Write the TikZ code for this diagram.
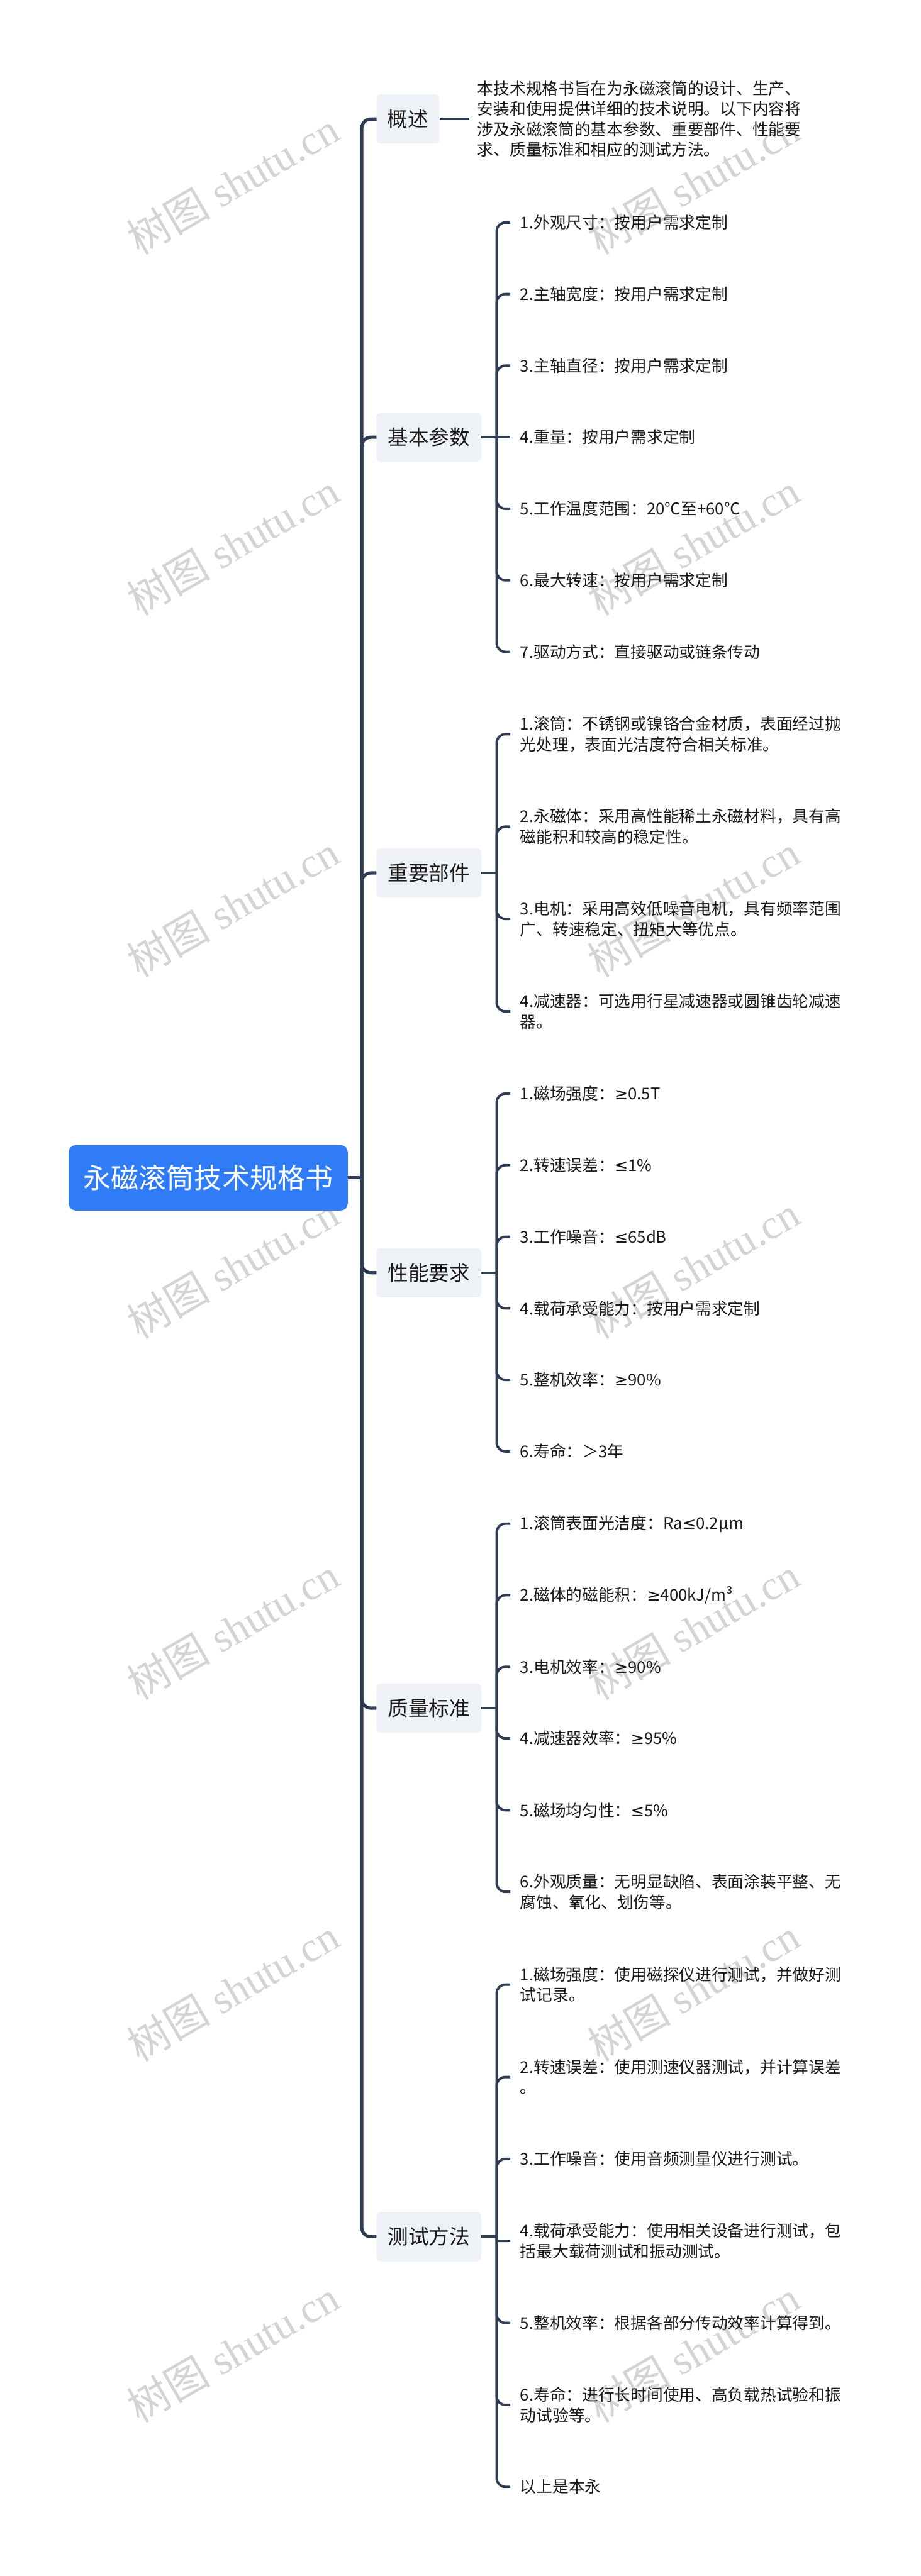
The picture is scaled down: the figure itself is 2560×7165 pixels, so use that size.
\documentclass[tikz,border=0pt]{standalone}
\usepackage{fontspec}
\setmainfont{Noto Sans CJK SC}
\newfontfamily\wmserif{Liberation Serif}
\newfontfamily\symf{DejaVu Sans}
\newcommand{\myge}{{\symf ≥}}
\newcommand{\myle}{{\symf ≤}}
\definecolor{lc}{HTML}{2E3D54}
\definecolor{catfill}{HTML}{EEF2F6}
\definecolor{rootblue}{HTML}{2F7CF6}
\definecolor{txt}{HTML}{1A1A1A}
\definecolor{wmgray}{HTML}{D4D4D4}
\tikzset{
  trunkline/.style={draw=lc, line width=4.5pt, rounded corners=12.5pt},
  subline/.style={draw=lc, line width=3.4pt, rounded corners=12pt},
  rootbox/.style={fill=rootblue, rounded corners=10pt, minimum width=388pt, minimum height=91pt,
    inner sep=0pt, text=white, font=\fontsize{38.5}{46}\selectfont},
  catbox/.style={fill=catfill, rounded corners=6pt, minimum width=145.5pt, minimum height=68.5pt,
    inner sep=0pt, text=txt, font=\fontsize{28.5}{34}\selectfont},
  leaf/.style={anchor=west, align=left, inner xsep=13.5pt, inner ysep=0pt, text=txt,
    font=\fontsize{22.5}{28.5}\selectfont},
  wm/.style={text=wmgray, rotate=30, inner sep=0pt, font=\fontsize{58}{60}\selectfont}
}
\begin{document}
\begin{tikzpicture}[x=0.5pt,y=-0.5pt]
\useasboundingbox (0,0) rectangle (2560,7165);
\fill[white] (0,0) rectangle (2560,7165);

% watermarks
\foreach \wy [count=\i] in {510,1515,2520,3525,4530,5535,6540}{
  \node[wm] (wl\i) at (648,\wy) {树图\wmserif\ shutu.cn};
  \node[wm] (wr\i) at (1928,\wy) {树图\wmserif\ shutu.cn};
}

% root
\node[rootbox] (root) at (579,3276) {永磁滚筒技术规格书};
\coordinate (tj) at (1006,3276);

% categories
\node[catbox, minimum width=87pt] (c1) at (1134.5,331) {概述};
\node[catbox] (c2) at (1192.5,1216) {基本参数};
\node[catbox] (c3) at (1192.5,2428) {重要部件};
\node[catbox] (c4) at (1192.5,3540) {性能要求};
\node[catbox] (c5) at (1192.5,4751) {质量标准};
\node[catbox] (c6) at (1192.5,6221) {测试方法};

\draw[trunkline] (root.east) -- (tj);
\foreach \c in {c1,c2,c3,c4,c5,c6}{
  \draw[trunkline] (tj) |- (\c.west);
}

% overview leaf
\node[leaf, inner xsep=11pt] (l1) at (1305,331) {本技术规格书旨在为永磁滚筒的设计、生产、\\安装和使用提供详细的技术说明。以下内容将\\涉及永磁滚筒的基本参数、重要部件、性能要\\求、质量标准和相应的测试方法。};
\draw[subline] (c1.east) -- (l1.west);

% basic parameters
\coordinate (j2) at (1381,1216);
\node[leaf] (l21) at (1419,619) {1.外观尺寸：按用户需求定制};
\node[leaf] (l22) at (1419,818) {2.主轴宽度：按用户需求定制};
\node[leaf] (l23) at (1419,1017) {3.主轴直径：按用户需求定制};
\node[leaf] (l24) at (1419,1216) {4.重量：按用户需求定制};
\node[leaf] (l25) at (1419,1415) {5.工作温度范围：20℃至+60℃};
\node[leaf] (l26) at (1419,1614) {6.最大转速：按用户需求定制};
\node[leaf] (l27) at (1419,1813) {7.驱动方式：直接驱动或链条传动};
\draw[subline] (c2.east) -- (j2);
\draw[subline] (j2) -- (l24.west);
\foreach \l in {l21,l22,l23,l25,l26,l27}{
  \draw[subline] (j2) |- (\l.west);
}

% important parts
\coordinate (j3) at (1381,2428);
\node[leaf] (l31) at (1419,2042) {1.滚筒：不锈钢或镍铬合金材质，表面经过抛\\光处理，表面光洁度符合相关标准。};
\node[leaf] (l32) at (1419,2299) {2.永磁体：采用高性能稀土永磁材料，具有高\\磁能积和较高的稳定性。};
\node[leaf] (l33) at (1419,2556) {3.电机：采用高效低噪音电机，具有频率范围\\广、转速稳定、扭矩大等优点。};
\node[leaf] (l34) at (1419,2813) {4.减速器：可选用行星减速器或圆锥齿轮减速\\器。};
\draw[subline] (c3.east) -- (j3);
\foreach \l in {l31,l32,l33,l34}{
  \draw[subline] (j3) |- (\l.west);
}

% performance
\coordinate (j4) at (1381,3540);
\node[leaf] (l41) at (1419,3042) {1.磁场强度：\myge 0.5T};
\node[leaf] (l42) at (1419,3241) {2.转速误差：\myle 1\%};
\node[leaf] (l43) at (1419,3440) {3.工作噪音：\myle 65dB};
\node[leaf] (l44) at (1419,3639) {4.载荷承受能力：按用户需求定制};
\node[leaf] (l45) at (1419,3838) {5.整机效率：\myge 90\%};
\node[leaf] (l46) at (1419,4037) {6.寿命：＞3年};
\draw[subline] (c4.east) -- (j4);
\foreach \l in {l41,l42,l43,l44,l45,l46}{
  \draw[subline] (j4) |- (\l.west);
}

% quality
\coordinate (j5) at (1381,4751);
\node[leaf] (l51) at (1419,4238) {1.滚筒表面光洁度：Ra\myle 0.2μm};
\node[leaf] (l52) at (1419,4437) {2.磁体的磁能积：\myge 400kJ/m³};
\node[leaf] (l53) at (1419,4636) {3.电机效率：\myge 90\%};
\node[leaf] (l54) at (1419,4835) {4.减速器效率：\myge 95\%};
\node[leaf] (l55) at (1419,5035) {5.磁场均匀性：\myle 5\%};
\node[leaf] (l56) at (1419,5262) {6.外观质量：无明显缺陷、表面涂装平整、无\\腐蚀、氧化、划伤等。};
\draw[subline] (c5.east) -- (j5);
\foreach \l in {l51,l52,l53,l54,l55,l56}{
  \draw[subline] (j5) |- (\l.west);
}

% test methods
\coordinate (j6) at (1381,6221);
\node[leaf] (l61) at (1419,5520) {1.磁场强度：使用磁探仪进行测试，并做好测\\试记录。};
\node[leaf] (l62) at (1419,5777) {2.转速误差：使用测速仪器测试，并计算误差\\。};
\node[leaf] (l63) at (1419,6005) {3.工作噪音：使用音频测量仪进行测试。};
\node[leaf] (l64) at (1419,6233) {4.载荷承受能力：使用相关设备进行测试，包\\括最大载荷测试和振动测试。};
\node[leaf] (l65) at (1419,6461) {5.整机效率：根据各部分传动效率计算得到。};
\node[leaf] (l66) at (1419,6689) {6.寿命：进行长时间使用、高负载热试验和振\\动试验等。};
\node[leaf] (l67) at (1419,6917) {以上是本永};
\draw[subline] (c6.east) -- (j6);
\draw[subline, rounded corners=2.5pt] (j6) |- (l64.west);
\foreach \l in {l61,l62,l63,l65,l66,l67}{
  \draw[subline] (j6) |- (\l.west);
}
\end{tikzpicture}
\end{document}
